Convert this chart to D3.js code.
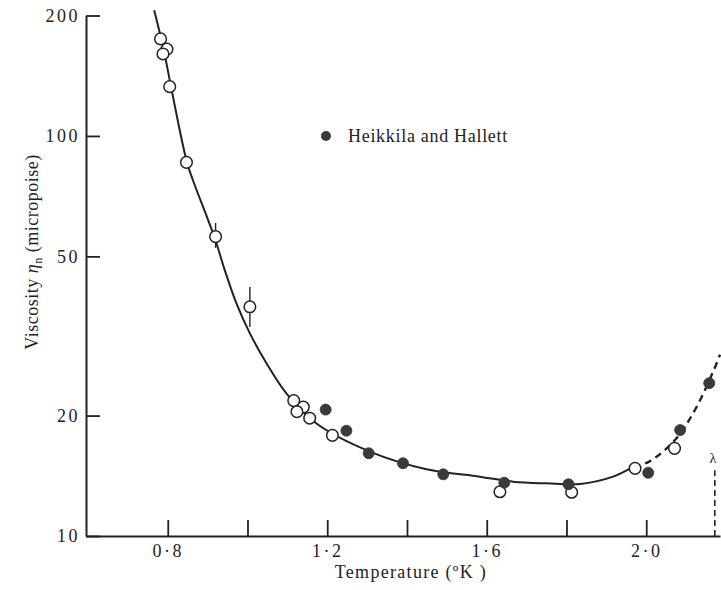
<!DOCTYPE html>
<html>
<head>
<meta charset="utf-8">
<script src="https://cdn.jsdelivr.net/npm/d3@7"></script>
<style>
  html, body { margin: 0; padding: 0; background: #ffffff; }
  svg { display: block; }
  text { font-family: "Liberation Serif", "DejaVu Serif", serif; fill: #222; }
</style>
</head>
<body>
<svg id="chart" width="721" height="590"></svg>
<script>
// ---- data ----
const xTicks = [0.8, 1.0, 1.2, 1.4, 1.6, 1.8, 2.0];
const xTickLabels = {"0.8": "0·8", "1.2": "1·2", "1.6": "1·6", "2": "2·0"};
const yTicks = [10, 20, 50, 100, 200];

// open circles (earlier measurements)
const openPoints = [
  [0.782, 174.8], [0.798, 164.8], [0.788, 160.3], [0.805, 132.8], [0.847, 85.9],
  [0.920, 56.0], [1.006, 37.4], [1.116, 21.8], [1.140, 21.0], [1.124, 20.45],
  [1.156, 19.7], [1.213, 17.85], [1.633, 12.9], [1.813, 12.86], [1.972, 14.76],
  [2.071, 16.56]
];
// error bars on open points [T, low, high]
const errorBars = [
  [0.920, 52.5, 60.6],
  [1.006, 33.3, 41.9]
];
// filled circles: Heikkila and Hallett
const filledPoints = [
  [1.196, 20.7], [1.248, 18.33], [1.304, 16.1], [1.390, 15.2], [1.491, 14.26],
  [1.644, 13.59], [1.805, 13.47], [2.005, 14.39], [2.085, 18.4], [2.158, 24.1]
];
// smooth curve, solid part
const solidCurve = [
  [0.766, 206], [0.790, 164], [0.810, 130], [0.848, 86], [0.863, 77.6],
  [0.918, 55.5], [0.943, 46.2], [0.972, 38.2], [1.006, 32.1], [1.048, 27.0],
  [1.098, 22.7], [1.173, 19.1], [1.307, 16.25], [1.449, 14.68], [1.583, 14.07],
  [1.666, 13.67], [1.750, 13.54], [1.834, 13.49], [1.917, 14.07], [1.968, 14.9]
];
// dashed continuation towards the lambda point
const dashedCurve = [
  [1.968, 14.9], [2.005, 15.3], [2.068, 17.2], [2.118, 20.3], [2.166, 25.5], [2.185, 28.4]
];
const lambdaT = 2.172;
const lambdaTop = 14.6;
const legendLabel = "Heikkila and Hallett";
const xTitle = "Temperature (ºK )";

// ---- drawing ----
const svg = d3.select("#chart");
const x = d3.scaleLinear().domain([0.595, 2.185]).range([86, 720]);
const y = d3.scaleLog().domain([10, 200]).range([536, 15.5]);
const ink = "#222";

// x axis
const xAxis = d3.axisBottom(x)
  .tickValues(xTicks)
  .tickSizeInner(-16).tickSizeOuter(0)
  .tickPadding(8)
  .tickFormat(d => xTickLabels[String(+d.toFixed(1))] || "");
const gx = svg.append("g").attr("transform", "translate(0,536)").call(xAxis);
gx.select(".domain").attr("stroke", ink).attr("stroke-width", 2);
gx.selectAll(".tick line").attr("stroke", ink).attr("stroke-width", 1.8);
gx.selectAll(".tick text").attr("font-size", 18).attr("letter-spacing", 2.5)
  .attr("fill", ink).attr("font-family", "Liberation Serif");

// y axis
const yAxis = d3.axisLeft(y)
  .tickValues(yTicks)
  .tickSizeInner(-14).tickSizeOuter(0)
  .tickPadding(6)
  .tickFormat(d3.format("d"));
const gy = svg.append("g").attr("transform", "translate(86,0)").call(yAxis);
gy.select(".domain").attr("stroke", ink).attr("stroke-width", 2);
gy.selectAll(".tick line").attr("stroke", ink).attr("stroke-width", 1.8);
gy.selectAll(".tick text").attr("font-size", 18).attr("letter-spacing", 2.5)
  .attr("fill", ink).attr("font-family", "Liberation Serif");

// axis titles
svg.append("text")
  .attr("x", x(1.41)).attr("y", 578)
  .attr("text-anchor", "middle")
  .attr("font-size", 18).attr("letter-spacing", 1.3)
  .text(xTitle);

const yt = svg.append("text")
  .attr("transform", "translate(38,252) rotate(-90)")
  .attr("text-anchor", "middle")
  .attr("font-size", 18).attr("letter-spacing", 0.5);
yt.append("tspan").text("Viscosity ");
yt.append("tspan").attr("font-style", "italic").text("η");
yt.append("tspan").attr("font-size", 12).attr("dy", 4).text("n");
yt.append("tspan").attr("dy", -4).text(" (micropoise)");

// curves
const line = d3.line().x(d => x(d[0])).y(d => y(d[1])).curve(d3.curveCatmullRom.alpha(0.5));
svg.append("path").datum(solidCurve).attr("d", line)
  .attr("fill", "none").attr("stroke", ink).attr("stroke-width", 2);
svg.append("path").datum(dashedCurve).attr("d", line)
  .attr("fill", "none").attr("stroke", ink).attr("stroke-width", 2.4)
  .attr("stroke-dasharray", "7,5");

// lambda marker
svg.append("line")
  .attr("x1", x(lambdaT)).attr("x2", x(lambdaT))
  .attr("y1", y(10)).attr("y2", y(lambdaTop))
  .attr("stroke", ink).attr("stroke-width", 1.6).attr("stroke-dasharray", "6,4");
svg.append("text")
  .attr("x", x(lambdaT) - 2).attr("y", y(lambdaTop) - 7)
  .attr("text-anchor", "middle").attr("font-size", 14)
  .attr("fill", ink)
  .text("λ");

// error bars
svg.selectAll(".err").data(errorBars).enter().append("line")
  .attr("x1", d => x(d[0])).attr("x2", d => x(d[0]))
  .attr("y1", d => y(d[1])).attr("y2", d => y(d[2]))
  .attr("stroke", ink).attr("stroke-width", 1.4);

// open circles
svg.selectAll(".open").data(openPoints).enter().append("circle")
  .attr("cx", d => x(d[0])).attr("cy", d => y(d[1])).attr("r", 5.8)
  .attr("fill", "#fff").attr("stroke", ink).attr("stroke-width", 1.5);

// filled circles
svg.selectAll(".filled").data(filledPoints).enter().append("circle")
  .attr("cx", d => x(d[0])).attr("cy", d => y(d[1])).attr("r", 5.5)
  .attr("fill", "#3a3a3a").attr("stroke", "#333").attr("stroke-width", 0.8);

// legend
svg.append("circle").attr("cx", 326).attr("cy", 136).attr("r", 5)
  .attr("fill", "#3a3a3a");
svg.append("text").attr("x", 348).attr("y", 142)
  .attr("font-size", 18).attr("letter-spacing", 0.7)
  .text(legendLabel);
</script>
</body>
</html>
